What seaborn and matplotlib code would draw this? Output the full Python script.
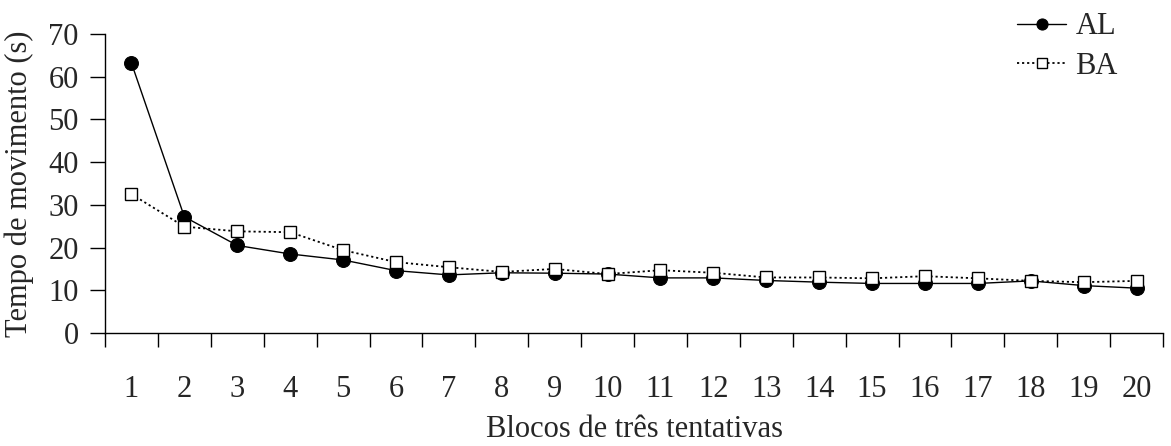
import numpy as np
import pandas as pd
import matplotlib
matplotlib.use("Agg")
import matplotlib.pyplot as plt
import seaborn as sns

blocos = list(range(1, 21))
al = [63.2, 27.2, 20.5, 18.5, 17.1, 14.6, 13.6, 14.1, 14.0, 13.8,
      12.9, 12.9, 12.3, 11.9, 11.6, 11.6, 11.6, 12.2, 11.1, 10.5]
ba = [32.5, 24.9, 23.8, 23.6, 19.4, 16.6, 15.4, 14.3, 15.0, 13.8,
      14.7, 14.1, 13.0, 13.0, 12.8, 13.3, 12.8, 12.2, 11.9, 12.2]

sns.set_style("white")
plt.rcParams['font.family'] = ['Liberation Serif', 'DejaVu Serif']

df = pd.DataFrame({"bloco": blocos, "AL": al, "BA": ba})

fig = plt.figure(figsize=(11.71, 4.46), dpi=100)
ax = fig.add_axes([105 / 1171, 113 / 446, (1163 - 105) / 1171, (333 - 34) / 446])

sns.lineplot(data=df, x="bloco", y="AL", ax=ax, color="black", lw=1.0,
             marker="o", markersize=10, markerfacecolor="black",
             markeredgecolor="black", label="AL")
sns.lineplot(data=df, x="bloco", y="BA", ax=ax, color="black", lw=1.3,
             linestyle=(0, (1.2, 1.6)), marker="s", markersize=9,
             markerfacecolor="white", markeredgecolor="black",
             markeredgewidth=1.0, label="BA")

ax.set_xlim(0.5, 20.5)
ax.set_ylim(0, 70)
ax.set_yticks(range(0, 71, 10))
ax.set_xticks(blocos)
ax.set_xticks(np.arange(0.5, 21, 1), minor=True)
ax.tick_params(axis="x", which="major", length=0, pad=30, labelsize=22)
ax.tick_params(axis="x", which="minor", length=10, width=1, direction="out",
               color="black", bottom=True)
ax.tick_params(axis="y", length=11, width=1, direction="out", color="black",
               left=True, pad=8, labelsize=22)

for side in ["top", "right"]:
    ax.spines[side].set_visible(False)
for side in ["left", "bottom"]:
    ax.spines[side].set_color("black")
    ax.spines[side].set_linewidth(1.0)

ax.set_xlabel("Blocos de três tentativas", fontsize=22, labelpad=8)
ax.set_ylabel("Tempo de movimento (s)", fontsize=22, labelpad=10)

leg = ax.legend(loc="upper right", bbox_to_anchor=(1130 / 1171, 1.0),
                bbox_transform=fig.transFigure, borderaxespad=0.0,
                frameon=False, fontsize=22, handlelength=1.6,
                handletextpad=0.3, labelspacing=0.35, markerscale=0.8)

fig.savefig("out.png", dpi=100, facecolor="white")
